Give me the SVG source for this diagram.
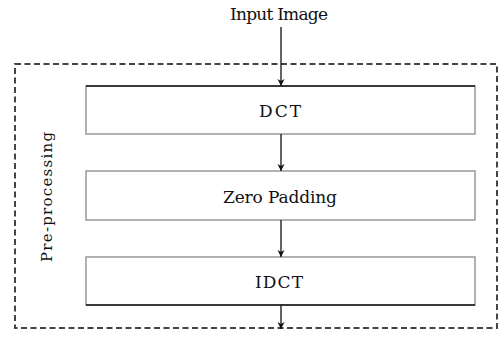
<svg xmlns="http://www.w3.org/2000/svg" width="500" height="338" viewBox="0 0 500 338">
<style>
.t{font-family:"DejaVu Serif","Liberation Serif","Times New Roman",serif;font-size:17px;fill:#111;text-anchor:middle}
.box{fill:#fff;stroke:#999;stroke-width:1.5}
.edge{stroke:#111;stroke-width:1.3;fill:none}
</style>
<defs>
<marker id="ah" viewBox="0 0 10 10" refX="10" refY="5" markerWidth="7" markerHeight="9" markerUnits="userSpaceOnUse" orient="auto">
<path d="M0,0 L10,5 L0,10 L3,5 Z" fill="#111"/>
</marker>
</defs>
<rect width="500" height="338" fill="#fff"/>
<g id="group-preprocessing">
<rect x="15" y="64" width="482" height="264" fill="none" stroke="#444" stroke-width="2" stroke-dasharray="6,3.5"/>
<text class="t" transform="translate(52,197) rotate(-90)" style="font-size:15px" textLength="130" lengthAdjust="spacing">Pre-processing</text>
</g>
<g id="input">
<text class="t" x="279" y="20" textLength="98" lengthAdjust="spacing">Input Image</text>
</g>
<g id="dct">
<rect class="box" x="86" y="86" width="389" height="48"/>
<line x1="86" y1="86" x2="475" y2="86" stroke="#111" stroke-width="1.3"/>
<text class="t" x="280" y="117" textLength="42" lengthAdjust="spacing">DCT</text>
</g>
<g id="zeropadding">
<rect class="box" x="86" y="171" width="389" height="49"/>
<text class="t" x="280" y="203" textLength="114" lengthAdjust="spacing">Zero Padding</text>
</g>
<g id="idct">
<rect class="box" x="86" y="257" width="389" height="48"/>
<line x1="86" y1="305" x2="475" y2="305" stroke="#111" stroke-width="1.3"/>
<text class="t" x="279" y="288" textLength="48" lengthAdjust="spacing">IDCT</text>
</g>
<g id="connectors">
<line class="edge" x1="281" y1="27" x2="281" y2="86" marker-end="url(#ah)"/>
<line class="edge" x1="281" y1="134" x2="281" y2="171" marker-end="url(#ah)"/>
<line class="edge" x1="281" y1="220" x2="281" y2="257" marker-end="url(#ah)"/>
<line class="edge" x1="281" y1="305" x2="281" y2="329" marker-end="url(#ah)"/>
</g>
</svg>
